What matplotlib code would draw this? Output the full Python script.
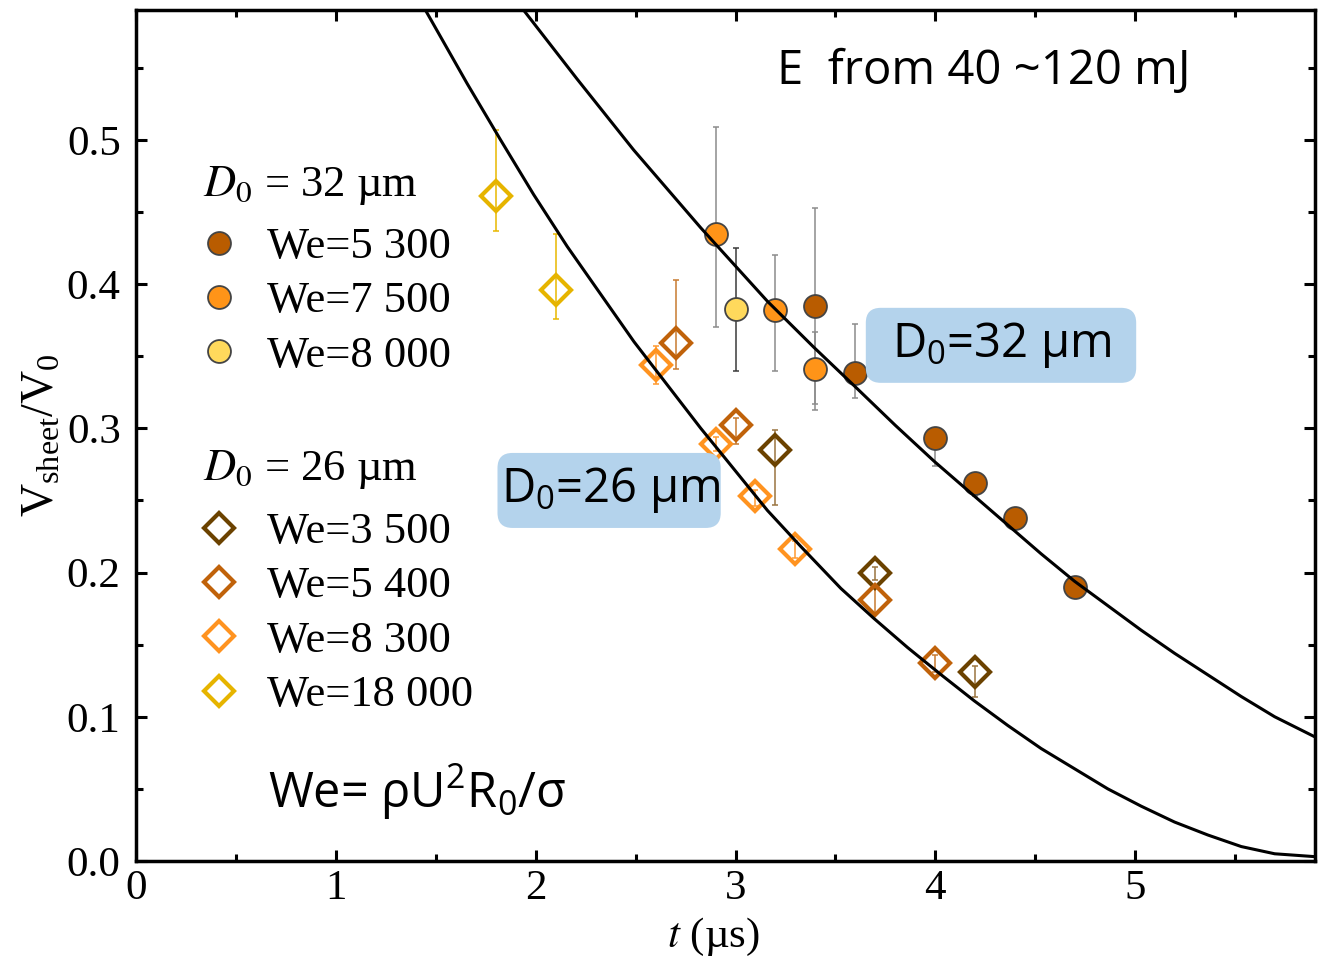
import numpy as np
import matplotlib
matplotlib.use('Agg')
from matplotlib import pyplot as plt
from matplotlib.lines import Line2D
from matplotlib.patches import FancyBboxPatch

plt.rcParams['mathtext.fontset'] = 'stix'
plt.rcParams['font.family'] = 'Liberation Serif'

# D0 = 32 um, filled circles
t_5300 = [3.4, 3.6, 4.0, 4.2, 4.4, 4.7]
v_5300 = [0.385, 0.338, 0.293, 0.262, 0.238, 0.190]
lo_5300 = [0.068, 0.017, 0.019, 0.009, 0.005, 0.007]
hi_5300 = [0.068, 0.034, 0.007, 0.006, 0.005, 0.004]

t_7500 = [2.9, 3.2, 3.4]
v_7500 = [0.435, 0.382, 0.341]
lo_7500 = [0.065, 0.042, 0.028]
hi_7500 = [0.074, 0.038, 0.026]

t_8000 = [3.0]
v_8000 = [0.383]
lo_8000 = [0.043]
hi_8000 = [0.042]

# D0 = 26 um, open diamonds
t_3500 = [3.2, 3.7, 4.2]
v_3500 = [0.285, 0.200, 0.131]
lo_3500 = [0.038, 0.005, 0.017]
hi_3500 = [0.014, 0.004, 0.004]

t_5400 = [2.7, 3.0, 3.7, 4.0]
v_5400 = [0.359, 0.302, 0.181, 0.137]
lo_5400 = [0.018, 0.013, 0.010, 0.006]
hi_5400 = [0.044, 0.005, 0.010, 0.006]

t_8300 = [2.6, 2.9, 3.1, 3.3]
v_8300 = [0.344, 0.289, 0.253, 0.216]
lo_8300 = [0.013, 0.005, 0.007, 0.006]
hi_8300 = [0.013, 0.005, 0.004, 0.006]

t_18000 = [1.8, 2.1]
v_18000 = [0.461, 0.396]
lo_18000 = [0.024, 0.020]
hi_18000 = [0.046, 0.039]

# model curves
t_fit32 = [1.939, 2.208, 2.490, 2.826, 3.160, 3.393, 3.590, 3.800, 3.995, 4.195,
           4.362, 4.529, 4.696, 4.863, 5.030, 5.197, 5.364, 5.531, 5.698, 5.900]
v_fit32 = [0.590, 0.542, 0.493, 0.439, 0.388, 0.356, 0.330, 0.302, 0.277, 0.253,
           0.233, 0.213, 0.194, 0.177, 0.160, 0.144, 0.129, 0.114, 0.100, 0.086]
t_fit26 = [1.448, 1.657, 1.824, 1.990, 2.158, 2.325, 2.492, 2.659, 2.826, 2.926,
           3.160, 3.327, 3.527, 3.694, 3.861, 4.030, 4.195, 4.362, 4.529, 4.696,
           4.863, 5.030, 5.197, 5.364, 5.531, 5.698, 5.900]
v_fit26 = [0.590, 0.539, 0.500, 0.462, 0.426, 0.393, 0.360, 0.330, 0.300, 0.283,
           0.243, 0.218, 0.189, 0.168, 0.148, 0.129, 0.111, 0.094, 0.078, 0.064,
           0.050, 0.038, 0.027, 0.018, 0.010, 0.005, 0.003]

fig = plt.figure(figsize=(13.19, 9.59), dpi=100)
ax = fig.add_axes([0.1031, 0.1022, 0.8939, 0.8874])

CIRC = dict(marker='o', ms=16.5, mec='#444444', mew=1.3)
DIAM = dict(marker='D', ms=15, mfc='none', mew=3)

def circles(t, v, lo, hi, face, ecol, label):
    ax.errorbar(t, v, yerr=[lo, hi], fmt='none', ecolor=ecol, elinewidth=1.1,
                capsize=2, capthick=1.1, zorder=2)
    ax.plot(t, v, ls='none', mfc=face, zorder=3, **CIRC)
    return Line2D([], [], ls='none', mfc=face, label=label, **CIRC)

def diamonds(t, v, lo, hi, col, ecol, label):
    ax.errorbar(t, v, yerr=[lo, hi], fmt='none', ecolor=ecol, elinewidth=1.1,
                capsize=2, capthick=1.1, zorder=2)
    ax.plot(t, v, ls='none', mec=col, zorder=3, **DIAM)
    return Line2D([], [], ls='none', mec=col, label=label, **DIAM)

h1 = circles(t_5300, v_5300, lo_5300, hi_5300, '#B95C00', '#8c8c8c', 'We=5 300')
h2 = circles(t_7500, v_7500, lo_7500, hi_7500, '#FF9418', '#8c8c8c', 'We=7 500')
h3 = circles(t_8000, v_8000, lo_8000, hi_8000, '#FFD95C', '#3a3a3a', 'We=8 000')

h4 = diamonds(t_3500, v_3500, lo_3500, hi_3500, '#6B4200', '#9A7440', 'We=3 500')
h5 = diamonds(t_5400, v_5400, lo_5400, hi_5400, '#C0620A', '#C87A30', 'We=5 400')
h6 = diamonds(t_8300, v_8300, lo_8300, hi_8300, '#FF9320', '#FF9A30', 'We=8 300')
h7 = diamonds(t_18000, v_18000, lo_18000, hi_18000, '#E6B400', '#E8B800', 'We=18 000')

ax.plot(t_fit32, v_fit32, color='black', lw=2.2, zorder=4, solid_joinstyle='round')
ax.plot(t_fit26, v_fit26, color='black', lw=2.2, zorder=4, solid_joinstyle='round')

ax.set_xlim(0, 5.9)
ax.set_ylim(0, 0.59)
ax.set_xticks([0, 1, 2, 3, 4, 5])
ax.set_xticks(np.arange(0.5, 5.9, 1.0), minor=True)
ax.set_yticks([0.0, 0.1, 0.2, 0.3, 0.4, 0.5])
ax.set_yticks(np.arange(0.05, 0.59, 0.1), minor=True)
ax.set_yticklabels(['0.0', '0.1', '0.2', '0.3', '0.4', '0.5'])
ax.tick_params(which='both', direction='in', top=True, right=True, width=2.2,
               labelsize=31)
ax.tick_params(which='major', length=8)
ax.tick_params(which='minor', length=5)
ax.tick_params(axis='x', pad=6)
ax.tick_params(axis='y', pad=11)
for s in ax.spines.values():
    s.set_linewidth(2.5)

ax.set_xlabel(r'$t$ (µs)', fontsize=31)
ax.xaxis.set_label_coords(0.49, -0.064)
ax.set_ylabel(r'$\mathregular{V_{sheet}/V_0}$', fontsize=33, labelpad=2)

# two legend groups, each with its own header line
leg_kw = dict(loc='upper left', fontsize=32, frameon=False,
              handlelength=0.7, handletextpad=0.75, labelspacing=0.32,
              borderpad=0, borderaxespad=0)
leg1 = ax.legend(handles=[h1, h2, h3], bbox_to_anchor=(0.0568, 0.7450), **leg_kw)
ax.add_artist(leg1)
leg2 = ax.legend(handles=[h4, h5, h6, h7], bbox_to_anchor=(0.0568, 0.4101), **leg_kw)
ax.text(0.0568, 0.7943, r'$D_0$ = 32 µm', fontsize=32, transform=ax.transAxes,
        va='center', ha='left')
ax.text(0.0568, 0.4595, r'$D_0$ = 26 µm', fontsize=32, transform=ax.transAxes,
        va='center', ha='left')

sans = 'Open Sans'
ax.text(3.21, 0.5475, 'E  from 40 ~120 mJ', fontsize=34, family=sans, va='center', ha='left')
ax.text(0.66, 0.048, r'We= $\mathregular{ρU^2R_0/σ}$', fontsize=35, family=sans,
        va='center', ha='left')

# rounded label boxes; mutation_aspect keeps the corners circular on screen
asp = (1442 / 199.6) ** -1
for (x0, x1, y0, y1) in [(3.652, 5.005, 0.3315, 0.3835), (1.809, 2.926, 0.2309, 0.2829)]:
    ax.add_patch(FancyBboxPatch((x0, y0), x1 - x0, y1 - y0,
                                boxstyle='round,pad=0,rounding_size=0.075',
                                mutation_aspect=asp, fc='#B4D3EC', ec='none', zorder=5))
ax.text(4.33, 0.358, r'$\mathregular{D_0}$=32 µm', fontsize=34, family=sans,
        va='center', ha='center', zorder=6)
ax.text(2.375, 0.2573, r'$\mathregular{D_0}$=26 µm', fontsize=34, family=sans,
        va='center', ha='center', zorder=6)

fig.savefig('out.png', dpi=100)
